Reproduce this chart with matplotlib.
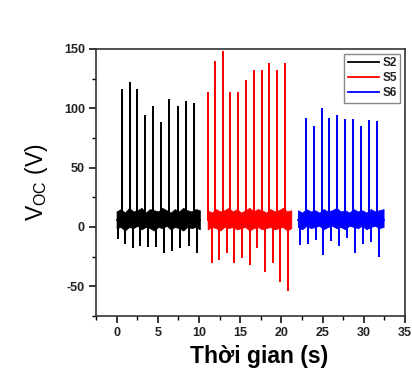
import matplotlib
matplotlib.use('Agg')
import matplotlib.pyplot as plt
import numpy as np
from matplotlib.ticker import MultipleLocator

plt.rcParams['font.family'] = ['Liberation Sans', 'DejaVu Sans']
plt.rcParams['axes.unicode_minus'] = False

# S2 (black)
s2_span = [0.0, 10.1]
s2_up_t = [0.7, 1.6, 2.5, 3.45, 4.45, 5.4, 6.4, 7.4, 8.4, 9.4]
s2_up_v = [116, 122, 116, 94, 102, 88, 108, 102, 106, 104]
s2_dn_t = [0.15, 1.0, 2.0, 2.85, 3.82, 4.78, 5.78, 6.73, 7.74, 8.75, 9.72]
s2_dn_v = [-10, -14, -18, -16, -17, -17, -22, -20, -18, -16, -22]
s2_hi = [13, 15, 12, 16, 13, 14, 16, 12, 15, 14, 13, 16, 14, 12, 15, 13, 16, 14, 13, 15, 14]
s2_lo = [-1, 0, -3, 0, -1, 1, -2, 0, -1, -3, 0, -1, 1, -2, 0, -1, -3, 0, -1, 0, -2]

# S5 (red)
s5_span = [11.05, 21.2]
s5_up_t = [11.1, 12.0, 12.9, 13.82, 14.79, 15.68, 16.66, 17.6, 18.54, 19.46, 20.44]
s5_up_v = [114, 140, 148, 114, 114, 124, 132, 132, 138, 132, 138]
s5_dn_t = [11.54, 12.48, 13.37, 14.3, 15.2, 16.13, 17.07, 18.0, 18.98, 19.88, 20.8]
s5_dn_v = [-30, -28, -22, -30, -26, -32, -18, -38, -30, -46, -54]
s5_hi = [14, 12, 15, 13, 14, 16, 13, 15, 12, 14, 16, 13, 15, 14, 12, 15, 13, 14, 16, 13, 14]
s5_lo = [-2, 0, -1, -3, 0, -1, 0, -2, -1, 0, -3, -1, 0, -2, -1, 0, -2, -1, 0, -3, -1]

# S6 (blue)
s6_span = [22.0, 32.4]
s6_up_t = [22.93, 23.9, 24.88, 25.8, 26.78, 27.75, 28.7, 29.63, 30.6, 31.59]
s6_up_v = [92, 85, 100, 92, 94, 91, 91, 85, 90, 89]
s6_dn_t = [22.23, 23.17, 24.15, 25.07, 26.0, 27.02, 28.0, 28.94, 29.88, 30.89, 31.83]
s6_dn_v = [-15, -14, -11, -24, -12, -16, -9, -22, -14, -13, -25]
s6_hi = [14, 12, 15, 13, 14, 12, 15, 13, 14, 16, 13, 14, 12, 15, 13, 14, 12, 15, 13, 14, 15]
s6_lo = [0, -2, 1, -1, 0, 1, -2, 0, 1, -1, 0, -2, 1, 0, -1, 1, -2, 0, 1, -1, 0]

series = [
    ('S2', 'black', s2_span, s2_up_t, s2_up_v, s2_dn_t, s2_dn_v, s2_hi, s2_lo),
    ('S5', '#ff0000', s5_span, s5_up_t, s5_up_v, s5_dn_t, s5_dn_v, s5_hi, s5_lo),
    ('S6', '#0000ff', s6_span, s6_up_t, s6_up_v, s6_dn_t, s6_dn_v, s6_hi, s6_lo),
]

BASE = 6

fig = plt.figure(figsize=(4.12, 3.73), dpi=100)
ax = fig.add_axes([0.233, 0.153, 0.750, 0.716])

for name, col, span, ut, uv, dt, dv, hi, lo in series:
    # spikes as one polyline
    ev = sorted(list(zip(ut, uv)) + list(zip(dt, dv)))
    xs, ys = [span[0]], [BASE]
    for t, v in ev:
        xs += [t, t, t]
        ys += [BASE, v, BASE]
    xs.append(span[1])
    ys.append(BASE)
    ax.plot(xs, ys, color=col, lw=1.3, label=name, solid_joinstyle='miter')
    # noisy band
    bt = np.linspace(span[0], span[1], len(hi))
    ax.fill_between(bt, lo, hi, color=col, lw=0.6, edgecolor=col)

ax.set_xlim(-2.5, 35)
ax.set_ylim(-75, 150)
ax.xaxis.set_major_locator(MultipleLocator(5))
ax.xaxis.set_minor_locator(MultipleLocator(2.5))
ax.yaxis.set_major_locator(MultipleLocator(50))
ax.yaxis.set_minor_locator(MultipleLocator(25))
ax.tick_params(which='major', direction='out', length=5, width=1.1, labelsize=9,
               labelcolor='#222222', pad=3)
ax.tick_params(which='minor', direction='out', length=3, width=1.0)
for lab in ax.get_xticklabels() + ax.get_yticklabels():
    lab.set_fontweight('bold')
for sp in ax.spines.values():
    sp.set_linewidth(1.2)
    sp.set_color('#333333')

ax.set_ylabel('V$_{\\mathregular{OC}}$ (V)', fontsize=16.5, labelpad=10)
ax.set_xlabel('Thời gian (s)', fontsize=16.5, fontweight='bold', labelpad=4, x=0.527)

leg = ax.legend(loc='upper right', fontsize=8.5, fancybox=False, edgecolor='#888888',
                handlelength=2.6, handletextpad=0.3, borderpad=0.3, labelspacing=0.25,
                borderaxespad=0.4, framealpha=1)
for t in leg.get_texts():
    t.set_fontweight('bold')
    t.set_color('#222222')

fig.savefig('out.png', dpi=100)
